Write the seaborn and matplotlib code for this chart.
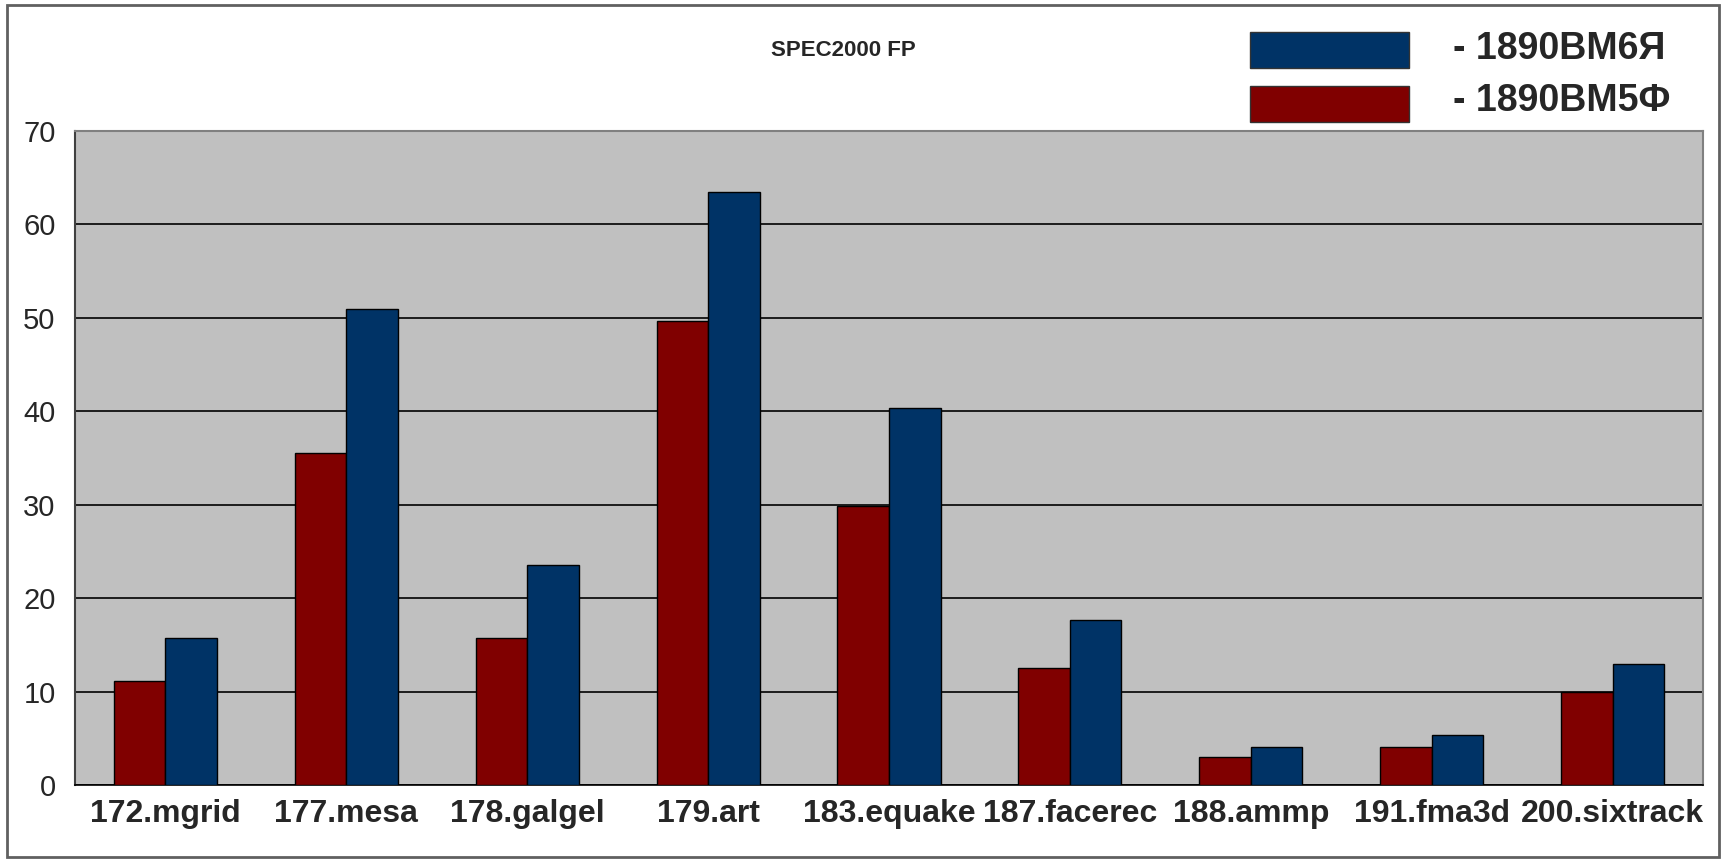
import pandas as pd
import matplotlib
matplotlib.use('Agg')
import matplotlib.pyplot as plt
import seaborn as sns
from matplotlib.patches import Rectangle

# benchmark names and scores
benchmarks = ['172.mgrid', '177.mesa', '178.galgel', '179.art', '183.equake',
              '187.facerec', '188.ammp', '191.fma3d', '200.sixtrack']
vm5f = [11.1, 35.5, 15.7, 49.7, 29.9, 12.5, 3.0, 4.1, 10.0]
vm6ya = [15.7, 50.9, 23.5, 63.5, 40.3, 17.7, 4.1, 5.4, 12.9]
series = ['1890ВМ5Ф', '1890ВМ6Я']
colors = ['#800000', '#003366']
yticks = [0, 10, 20, 30, 40, 50, 60, 70]
title = 'SPEC2000 FP'

df = pd.DataFrame({
    'bench': benchmarks * 2,
    'score': vm5f + vm6ya,
    'cpu': [series[0]] * len(benchmarks) + [series[1]] * len(benchmarks),
})

sns.set_style('white')
plt.rcParams['font.family'] = ['Liberation Sans', 'DejaVu Sans']

fig = plt.figure(figsize=(17.36, 8.59), dpi=100)
ax = fig.add_axes([75 / 1736, 74 / 859, 1628 / 1736, 654 / 859])
ax.set_facecolor('#C0C0C0')

sns.barplot(data=df, x='bench', y='score', hue='cpu', hue_order=series,
            palette=colors, width=0.57, edgecolor='black', linewidth=1,
            saturation=1, legend=False, ax=ax, zorder=3)

ax.set_xlim(-0.5, len(benchmarks) - 0.5)
ax.set_ylim(0, 70)
ax.set_yticks(yticks)
ax.set_yticklabels([str(v) for v in yticks], fontsize=21)
ax.yaxis.grid(True, color='black', linewidth=1.2, zorder=1)
ax.set_axisbelow(True)
ax.set_xlabel('')
ax.set_ylabel('')

# category labels centred, tick marks on the category borders (Excel style)
ax.set_xticks(range(len(benchmarks)))
ax.set_xticklabels(benchmarks, fontsize=23, fontweight='bold')
ax.set_xticks([i - 0.5 for i in range(len(benchmarks) + 1)], minor=True)
ax.tick_params(axis='x', which='major', length=0, pad=10)
ax.tick_params(axis='x', which='minor', length=8, width=1, color='black', direction='out')
ax.tick_params(axis='y', which='major', length=8, width=1, color='black', direction='out', pad=6)

for side in ['top', 'right']:
    ax.spines[side].set_color('#808080')
    ax.spines[side].set_linewidth(1.5)
ax.spines['left'].set_color('#404040')
ax.spines['left'].set_linewidth(1.5)
ax.spines['bottom'].set_color('black')
ax.spines['bottom'].set_linewidth(1.2)

fig.text(843 / 1736, 1 - 51 / 859, title, ha='center', va='center',
         fontsize=16, fontweight='bold')

# hand-made legend, top right
fig.patches.append(Rectangle((1250 / 1736, 1 - 68 / 859), 159 / 1736, 36 / 859,
                             transform=fig.transFigure, facecolor=colors[1],
                             edgecolor='#333333', linewidth=1))
fig.patches.append(Rectangle((1250 / 1736, 1 - 122 / 859), 159 / 1736, 36 / 859,
                             transform=fig.transFigure, facecolor=colors[0],
                             edgecolor='#333333', linewidth=1))
fig.text(1453 / 1736, 1 - 49 / 859, '- ' + series[1], ha='left', va='center',
         fontsize=27, fontweight='bold')
fig.text(1453 / 1736, 1 - 101 / 859, '- ' + series[0], ha='left', va='center',
         fontsize=27, fontweight='bold')

# outer chart frame
fig.patches.append(Rectangle((7 / 1736, 2 / 859), 1712 / 1736, 852 / 859,
                             transform=fig.transFigure, facecolor='none',
                             edgecolor='#606060', linewidth=2))

fig.savefig('out.png', dpi=100, facecolor='white')
